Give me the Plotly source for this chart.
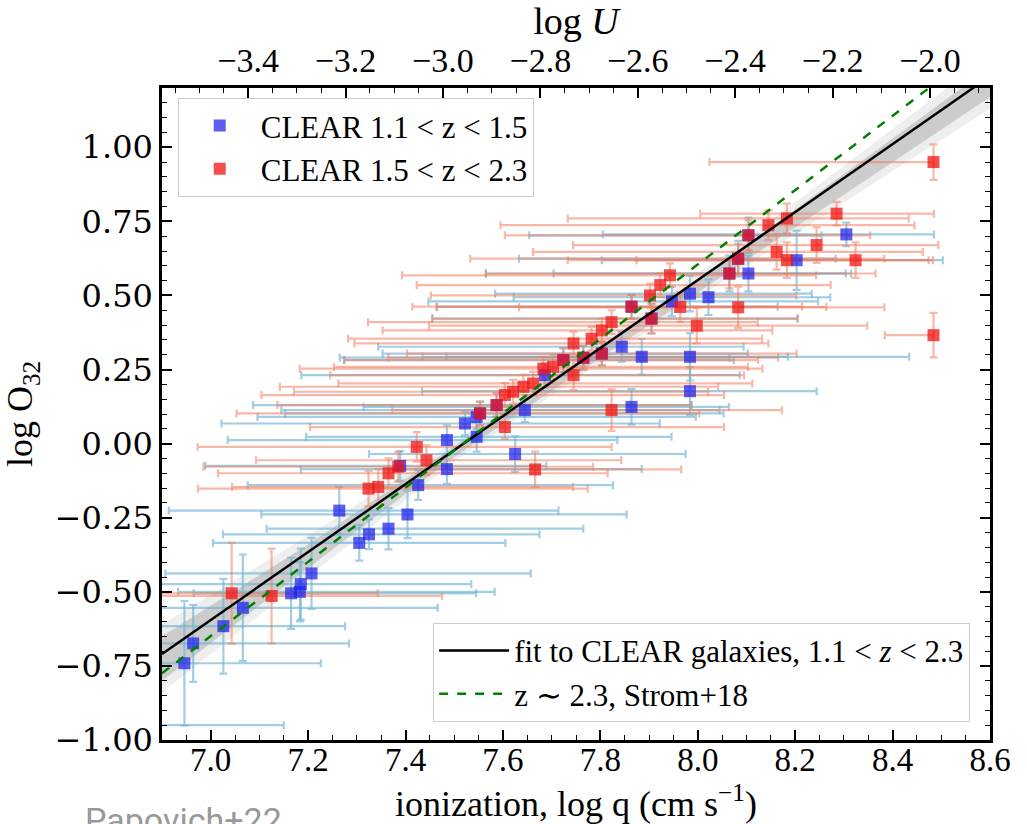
import numpy as np
import plotly.graph_objects as go

# ---------------- data ----------------
LOG_C = float(np.log10(2.998e10))  # log U = log q - log c

# CLEAR 1.1 < z < 1.5 (blue)
blue_q = [6.860, 6.946, 6.964, 7.026, 7.066, 7.165, 7.183, 7.185, 7.207, 7.264,
          7.305, 7.325, 7.365, 7.404, 7.426, 7.389, 7.485, 7.485, 7.522, 7.546,
          7.546, 7.587, 7.553, 7.625, 7.645, 7.686, 7.724, 7.765, 7.803, 7.844,
          7.885, 7.864, 7.864, 7.905, 7.947, 7.984, 8.022, 7.984, 7.984, 8.065,
          8.083, 8.104, 8.104, 8.203, 8.305]
blue_o32 = [-0.950, -0.741, -0.674, -0.616, -0.554, -0.505, -0.500, -0.474, -0.438, -0.226,
            -0.335, -0.306, -0.287, -0.239, -0.140, -0.075, 0.012, -0.086, 0.068, 0.090,
            0.023, 0.130, 0.102, -0.035, 0.113, 0.231, 0.282, 0.290, 0.304, 0.327,
            0.293, 0.124, 0.462, 0.422, 0.480, 0.506, 0.494, 0.293, 0.177, 0.574,
            0.624, 0.574, 0.703, 0.619, 0.706]
blue_q_lo = [0.20, 0.30, 0.10, 0.20, 0.25, 0.20, 0.25, 0.30, 0.30, 0.35,
             0.30, 0.30, 0.25, 0.30, 0.35, 0.40, 0.45, 0.30, 0.50, 0.45,
             0.35, 0.50, 0.40, 0.30, 0.50, 0.50, 0.45, 0.50, 0.45, 0.50,
             0.45, 0.55, 0.40, 0.45, 0.50, 0.40, 0.40, 0.50, 0.55, 0.50,
             0.45, 0.40, 0.45, 0.40, 0.50]
blue_q_hi = [0.29, 0.28, 0.32, 0.25, 0.40, 0.38, 0.40, 0.35, 0.45, 0.45,
             0.30, 0.35, 0.40, 0.45, 0.40, 0.30, 0.35, 0.40, 0.40, 0.45,
             0.40, 0.40, 0.50, 0.35, 0.40, 0.40, 0.35, 0.30, 0.30, 0.25,
             0.30, 0.20, 0.30, 0.30, 0.30, 0.25, 0.25, 0.45, 0.26, 0.25,
             0.20, 0.20, 0.15, 0.30, 0.18]
blue_o32_err = [0.10, 0.21, 0.13, 0.16, 0.18, 0.12, 0.10, 0.12, 0.12, 0.08,
                0.06, 0.05, 0.07, 0.08, 0.05, 0.05, 0.05, 0.05, 0.04, 0.04,
                0.05, 0.04, 0.04, 0.06, 0.04, 0.04, 0.04, 0.04, 0.04, 0.05,
                0.06, 0.06, 0.04, 0.05, 0.05, 0.06, 0.06, 0.08, 0.08, 0.06,
                0.06, 0.06, 0.06, 0.10, 0.04]

# CLEAR 1.5 < z < 2.3 (red)
red_q = [7.043, 7.125, 7.324, 7.344, 7.365, 7.385, 7.423, 7.443, 7.553, 7.587,
         7.604, 7.604, 7.621, 7.642, 7.662, 7.666, 7.683, 7.703, 7.724, 7.745,
         7.745, 7.765, 7.782, 7.803, 7.803, 7.823, 7.823, 7.864, 7.902, 7.905,
         7.923, 7.943, 7.964, 7.998, 8.065, 8.083, 8.083, 8.104, 8.145, 8.162,
         8.183, 8.183, 8.244, 8.285, 8.324, 8.484, 8.484]
red_o32 = [-0.505, -0.514, -0.152, -0.146, -0.100, -0.078, -0.011, -0.056, 0.102, 0.130,
           0.056, 0.164, 0.175, 0.192, 0.203, -0.087, 0.253, 0.259, 0.282, 0.231,
           0.338, 0.290, 0.354, 0.382, 0.304, 0.410, 0.113, 0.462, 0.500, 0.422,
           0.535, 0.568, 0.461, 0.398, 0.574, 0.624, 0.460, 0.703, 0.737, 0.647,
           0.619, 0.760, 0.670, 0.776, 0.619, 0.950, 0.366]
red_q_lo = [0.40, 0.30, 0.35, 0.30, 0.35, 0.40, 0.45, 0.35, 0.50, 0.45,
            0.40, 0.50, 0.45, 0.50, 0.40, 0.30, 0.50, 0.45, 0.45, 0.50,
            0.45, 0.40, 0.50, 0.45, 0.40, 0.50, 0.45, 0.45, 0.45, 0.45,
            0.50, 0.55, 0.50, 0.55, 0.50, 0.55, 0.45, 0.50, 0.55, 0.50,
            0.45, 0.45, 0.50, 0.28, 0.45, 0.46, 0.10]
red_q_hi = [0.30, 0.35, 0.45, 0.40, 0.45, 0.40, 0.40, 0.40, 0.45, 0.40,
            0.45, 0.45, 0.40, 0.40, 0.45, 0.30, 0.45, 0.40, 0.40, 0.35,
            0.40, 0.40, 0.35, 0.35, 0.40, 0.30, 0.35, 0.35, 0.30, 0.30,
            0.35, 0.30, 0.30, 0.35, 0.30, 0.30, 0.30, 0.25, 0.30, 0.30,
            0.30, 0.25, 0.25, 0.20, 0.15, 0.00, 0.00]
red_o32_err = [0.17, 0.16, 0.06, 0.06, 0.05, 0.05, 0.05, 0.05, 0.04, 0.04,
               0.04, 0.04, 0.04, 0.04, 0.04, 0.06, 0.04, 0.04, 0.04, 0.05,
               0.04, 0.04, 0.04, 0.04, 0.04, 0.04, 0.07, 0.04, 0.04, 0.05,
               0.04, 0.04, 0.05, 0.06, 0.05, 0.05, 0.07, 0.05, 0.05, 0.06,
               0.06, 0.05, 0.06, 0.04, 0.06, 0.06, 0.075]

# fit to CLEAR galaxies and Strom+18 relation
fit_q = [6.9, 8.6]
fit_o32 = [-0.71, 1.24]
strom_q = [6.9, 8.6]
strom_o32 = [-0.775, 1.357]

# uncertainty band of the fit
band_q = [6.9, 7.2, 7.5, 7.8, 8.1, 8.4, 8.6]
band_in_hi = [-0.65, -0.34, -0.01, 0.33, 0.67, 1.03, 1.27]
band_in_lo = [-0.80, -0.42, -0.045, 0.29, 0.62, 0.95, 1.17]
band_out_hi = [-0.61, -0.31, 0.005, 0.345, 0.69, 1.06, 1.31]
band_out_lo = [-0.84, -0.45, -0.06, 0.275, 0.60, 0.92, 1.13]

x_range = [6.9, 8.6]
y_range = [-1.0, 1.2]

# ---------------- styles ----------------
SERIF = "Liberation Serif"
BLUE_M = "rgba(30,30,235,0.72)"
RED_M = "rgba(240,20,20,0.75)"
BLUE_E = "rgba(110,180,210,0.65)"
RED_E = "rgba(240,125,95,0.55)"

fig = go.Figure()

# bands
fig.add_trace(go.Scatter(x=band_q, y=band_out_hi, mode="lines", line=dict(width=0),
                         showlegend=False, hoverinfo="skip"))
fig.add_trace(go.Scatter(x=band_q, y=band_out_lo, mode="lines", line=dict(width=0),
                         fill="tonexty", fillcolor="rgba(150,150,150,0.16)",
                         showlegend=False, hoverinfo="skip"))
fig.add_trace(go.Scatter(x=band_q, y=band_in_hi, mode="lines", line=dict(width=0),
                         showlegend=False, hoverinfo="skip"))
fig.add_trace(go.Scatter(x=band_q, y=band_in_lo, mode="lines", line=dict(width=0),
                         fill="tonexty", fillcolor="rgba(140,140,140,0.35)",
                         showlegend=False, hoverinfo="skip"))

# error bars
def err_trace(q, o, lo, hi, ey, col):
    return go.Scatter(
        x=q, y=o, mode="markers",
        marker=dict(size=1, color="rgba(0,0,0,0)"),
        error_x=dict(type="data", array=hi, arrayminus=lo, symmetric=False,
                     color=col, thickness=2.2, width=4),
        error_y=dict(type="data", array=ey, color=col, thickness=2.2, width=4),
        showlegend=False, hoverinfo="skip")

fig.add_trace(err_trace(blue_q, blue_o32, blue_q_lo, blue_q_hi, blue_o32_err, BLUE_E))
fig.add_trace(err_trace(red_q, red_o32, red_q_lo, red_q_hi, red_o32_err, RED_E))

# markers
fig.add_trace(go.Scatter(x=blue_q, y=blue_o32, mode="markers",
                         marker=dict(symbol="square", size=12, color=BLUE_M, line=dict(width=0)),
                         name="CLEAR 1.1 &lt; z &lt; 1.5", legend="legend"))
fig.add_trace(go.Scatter(x=red_q, y=red_o32, mode="markers",
                         marker=dict(symbol="square", size=12, color=RED_M, line=dict(width=0)),
                         name="CLEAR 1.5 &lt; z &lt; 2.3", legend="legend"))

# lines
fig.add_trace(go.Scatter(x=fit_q, y=fit_o32, mode="lines",
                         line=dict(color="black", width=2.5),
                         name="fit to CLEAR galaxies, 1.1 &lt; <i>z</i> &lt; 2.3", legend="legend2"))
fig.add_trace(go.Scatter(x=strom_q, y=strom_o32, mode="lines",
                         line=dict(color="green", width=2.5, dash="dash"),
                         name="z ∼ 2.3, Strom+18", legend="legend2"))

# dummy trace for top axis
fig.add_trace(go.Scatter(x=[x_range[0] - LOG_C, x_range[1] - LOG_C], y=[None, None],
                         xaxis="x2", mode="lines", showlegend=False, hoverinfo="skip"))

axis_common = dict(showgrid=False, zeroline=False, ticks="inside", ticklen=10,
                   tickwidth=1.5, tickcolor="black")

fig.update_layout(
    width=1027, height=824,
    margin=dict(l=162, r=37, t=88, b=84),
    paper_bgcolor="white", plot_bgcolor="white",
    font=dict(family=SERIF, color="black"),
    xaxis=dict(**axis_common, range=x_range, tickmode="linear", tick0=7.0, dtick=0.2,
               tickformat=".1f", showline=True, linecolor="black", linewidth=2.5,
               mirror=True,
               minor=dict(ticks="inside", ticklen=5, tickwidth=1.2, tickcolor="black",
                          tick0=7.0, dtick=0.05),
               tickfont=dict(family=SERIF, size=33), ticklabelstandoff=-11,
               title=dict(text="ionization, log q (cm s<sup>−1</sup>)",
                          font=dict(family=SERIF, size=36), standoff=14),
               automargin=False),
    xaxis2=dict(**axis_common, overlaying="x", side="top", anchor="y",
                range=[x_range[0] - LOG_C, x_range[1] - LOG_C],
                tickmode="linear", tick0=-3.4, dtick=0.2, tickformat=".1f",
                showline=False,
                minor=dict(ticks="inside", ticklen=5, tickwidth=1.2, tickcolor="black",
                           tick0=-3.4, dtick=0.05),
                tickfont=dict(family=SERIF, size=34), ticklabelstandoff=8,
                title=dict(text="log <i>U</i>", font=dict(family=SERIF, size=38), standoff=0),
                automargin=False),
    yaxis=dict(**axis_common, range=y_range, tickmode="linear", tick0=-1.0, dtick=0.25,
               tickformat=".2f", showline=True, linecolor="black", linewidth=2.5,
               mirror="ticks",
               minor=dict(ticks="inside", ticklen=5, tickwidth=1.2, tickcolor="black",
                          tick0=-1.0, dtick=0.05),
               tickfont=dict(family="DejaVu Serif", size=32),
               title=dict(text="log O<sub>32</sub>", font=dict(family=SERIF, size=36), standoff=14),
               automargin=False),
    legend=dict(x=0.019, y=0.985, xanchor="left", yanchor="top", traceorder="normal",
                bgcolor="rgba(255,255,255,0.85)", bordercolor="#cccccc", borderwidth=1,
                font=dict(family=SERIF, size=31), itemwidth=72, tracegroupgap=0),
    legend2=dict(x=0.976, y=0.028, xanchor="right", yanchor="bottom", traceorder="normal",
                 bgcolor="rgba(255,255,255,0.85)", bordercolor="#cccccc", borderwidth=1,
                 font=dict(family=SERIF, size=31), itemwidth=70, tracegroupgap=0),
    annotations=[dict(text="Papovich+22", xref="paper", yref="paper",
                      x=-0.096, y=-0.089, xanchor="left", yanchor="top",
                      showarrow=False, font=dict(family="Roboto", size=34, color="#999999"))],
)

fig.write_html("out.html")
